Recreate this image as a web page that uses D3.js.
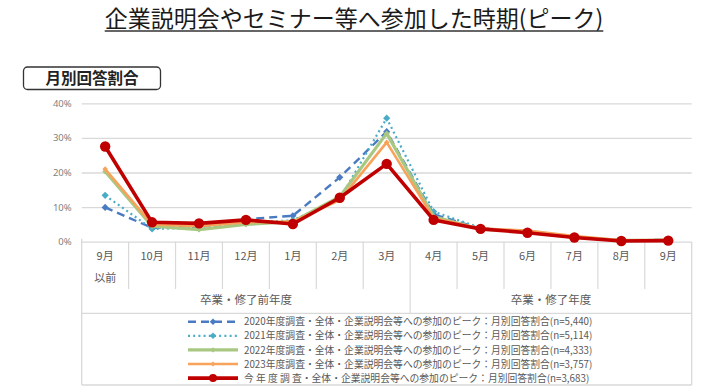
<!DOCTYPE html>
<html lang="ja">
<head>
<meta charset="utf-8">
<script src="https://cdn.jsdelivr.net/npm/d3@7"></script>
<style>
  html, body { margin: 0; padding: 0; background: #fff; }
  svg { display: block; font-family: "Noto Sans CJK JP", "Noto Sans", sans-serif; }
</style>
</head>
<body>
<svg id="chart" width="704" height="392" viewBox="0 0 704 392"></svg>
<script>
// ---- data ----
const categories = ["9月以前","10月","11月","12月","1月","2月","3月","4月","5月","6月","7月","8月","9月"];
const yTicks = [0, 0.1, 0.2, 0.3, 0.4];

const s2020 = [9.9, 4.0, 4.3, 6.5, 7.5, 18.6, 31.8, 7.9, 3.8, 2.7, 1.3, 0.4, 0.5];
const s2021 = [13.4, 3.7, 4.0, 5.5, 6.2, 12.4, 35.7, 8.7, 4.0, 2.8, 1.4, 0.4, 0.5];
const s2022 = [20.3, 4.5, 3.5, 5.0, 5.8, 13.0, 31.3, 7.3, 3.6, 3.0, 1.3, 0.4, 0.4];
const s2023 = [21.0, 5.0, 4.5, 5.6, 5.8, 12.0, 28.7, 6.8, 3.8, 3.2, 1.6, 0.4, 0.5];
const sNow  = [27.5, 5.6, 5.3, 6.3, 5.1, 12.7, 22.5, 6.3, 3.7, 2.6, 1.2, 0.2, 0.3];

const seriesNames = [
  "2020年度調査・全体・企業説明会等への参加のピーク：月別回答割合(n=5,440)",
  "2021年度調査・全体・企業説明会等への参加のピーク：月別回答割合(n=5,114)",
  "2022年度調査・全体・企業説明会等への参加のピーク：月別回答割合(n=4,333)",
  "2023年度調査・全体・企業説明会等への参加のピーク：月別回答割合(n=3,757)",
  "今 年 度 調 査・全体・企業説明会等への参加のピーク：月別回答割合(n=3,683)"
];

const groups = [
  { name: "卒業・修了前年度", from: "9月以前", to: "3月" },
  { name: "卒業・修了年度",   from: "4月",     to: "9月" }
];

// ---- styling per series ----
const styles = [
  { color: "#4a7bc2", width: 2.4, dash: "8 5", marker: "diamond", size: 3.6 },
  { color: "#4bacc6", width: 2.2, dash: "2 3.2", marker: "diamond", size: 3.6 },
  { color: "#a8c882", width: 3.2, dash: null, marker: "diamond", size: 3.0 },
  { color: "#f7a35c", width: 2.6, dash: null, marker: "diamond", size: 2.8 },
  { color: "#c00000", width: 3.6, dash: null, marker: "circle",  size: 5.2 }
];

const series = [s2020, s2021, s2022, s2023, sNow].map((vals, i) => ({
  name: seriesNames[i],
  style: styles[i],
  values: vals.map((v, j) => ({ cat: categories[j], val: v / 100 }))
}));

const svg = d3.select("#chart");

const left = 81.7, right = 691.7;
const yTop = 103.3, yBase = 241.7;
const tableBottom = 313.3, legendBottom = 385;
const lineCol = "#d9d9d9";
const textCol = "#595959";

// ---- title ----
const title = svg.append("text")
  .attr("x", 354).attr("y", 27)
  .attr("text-anchor", "middle")
  .style("font-size", "23px")
  .style("fill", "#1a1a1a")
  .text("企業説明会やセミナー等へ参加した時期(ピーク)");
const tb = title.node().getBBox();
svg.append("line")
  .attr("x1", tb.x).attr("x2", tb.x + tb.width)
  .attr("y1", 31).attr("y2", 31)
  .attr("stroke", "#333").attr("stroke-width", 1.3);

// ---- "月別回答割合" box ----
svg.append("rect")
  .attr("x", 23.5).attr("y", 67).attr("width", 137).attr("height", 22.5)
  .attr("rx", 4)
  .attr("fill", "#fff").attr("stroke", "#333").attr("stroke-width", 1.3);
svg.append("text")
  .attr("x", 92).attr("y", 84)
  .attr("text-anchor", "middle")
  .style("font-size", "15.5px").style("font-weight", "700")
  .style("fill", "#222")
  .text("月別回答割合");

// ---- scales ----
const x = d3.scaleBand().domain(categories).range([left, right]);
const y = d3.scaleLinear().domain([0, 0.4]).range([yBase, yTop]);
const cx = d => x(d) + x.bandwidth() / 2;

// ---- y axis + grid ----
const yAxis = svg.append("g")
  .attr("transform", `translate(${left},0)`)
  .call(d3.axisLeft(y).tickValues(yTicks).tickFormat(d3.format(".0%")).tickSize(-(right - left)).tickPadding(10));
yAxis.select(".domain").remove();
yAxis.selectAll(".tick line").attr("stroke", lineCol).attr("stroke-width", 1.3);
yAxis.selectAll(".tick text")
  .style("font-family", "'Noto Sans', sans-serif")
  .style("font-size", "9.5px").style("fill", "#7f7f7f");

// ---- category table ----
const tbl = svg.append("g");
// vertical separators between months
categories.slice(1).forEach(c => {
  const isGroupEdge = groups.some(g => g.from === c);
  tbl.append("line")
    .attr("x1", x(c)).attr("x2", x(c))
    .attr("y1", yBase).attr("y2", isGroupEdge ? tableBottom : 289)
    .attr("stroke", lineCol).attr("stroke-width", 1.2);
});
// outer borders
tbl.append("line").attr("x1", left).attr("x2", left).attr("y1", yBase - 3).attr("y2", legendBottom)
  .attr("stroke", lineCol).attr("stroke-width", 1.3);
tbl.append("line").attr("x1", right).attr("x2", right).attr("y1", yBase).attr("y2", legendBottom)
  .attr("stroke", lineCol).attr("stroke-width", 1.3);
tbl.append("line").attr("x1", left).attr("x2", right).attr("y1", tableBottom).attr("y2", tableBottom)
  .attr("stroke", lineCol).attr("stroke-width", 1.3);
tbl.append("line").attr("x1", left).attr("x2", right).attr("y1", legendBottom).attr("y2", legendBottom)
  .attr("stroke", lineCol).attr("stroke-width", 1.3);

// month labels
categories.forEach(c => {
  const lines = c === "9月以前" ? ["9月", "以前"] : [c];
  lines.forEach((t, i) => {
    tbl.append("text")
      .attr("x", cx(c)).attr("y", 260 + i * 22)
      .attr("text-anchor", "middle")
      .style("font-size", "11px").style("fill", textCol)
      .text(t);
  });
});
// group labels
groups.forEach(g => {
  const gx = (x(g.from) + x(g.to) + x.bandwidth()) / 2;
  tbl.append("text")
    .attr("x", gx).attr("y", 304)
    .attr("text-anchor", "middle")
    .style("font-size", "11.5px").style("fill", textCol)
    .text(g.name);
});

// ---- lines & markers ----
const line = d3.line().x(d => cx(d.cat)).y(d => y(d.val));

function drawMarker(sel, st, px, py) {
  if (st.marker === "circle") {
    sel.append("circle").attr("cx", px).attr("cy", py).attr("r", st.size).attr("fill", st.color);
  } else {
    const s = st.size;
    sel.append("path")
      .attr("d", `M${px},${py - s}L${px + s},${py}L${px},${py + s}L${px - s},${py}Z`)
      .attr("fill", st.color);
  }
}

const plot = svg.append("g");
series.forEach(s => {
  const g = plot.append("g");
  g.append("path")
    .attr("d", line(s.values))
    .attr("fill", "none")
    .attr("stroke", s.style.color)
    .attr("stroke-width", s.style.width)
    .attr("stroke-dasharray", s.style.dash)
    .attr("stroke-linejoin", "round");
  s.values.forEach(d => drawMarker(g, s.style, cx(d.cat), y(d.val)));
});

// ---- legend ----
const legend = svg.append("g");
series.forEach((s, i) => {
  const ly = 321.7 + i * 14.1;
  const row = legend.append("g");
  row.append("line")
    .attr("x1", 188).attr("x2", 238).attr("y1", ly).attr("y2", ly)
    .attr("stroke", s.style.color)
    .attr("stroke-width", s.style.width)
    .attr("stroke-dasharray", s.style.dash);
  const ms = Object.assign({}, s.style, { size: s.style.marker === "circle" ? 4 : s.style.size * 0.9 });
  drawMarker(row, ms, 213, ly);
  row.append("text")
    .attr("x", 244).attr("y", ly + 3.6)
    .style("font-size", "9.8px").style("fill", textCol)
    .text(s.name);
});
</script>
</body>
</html>
